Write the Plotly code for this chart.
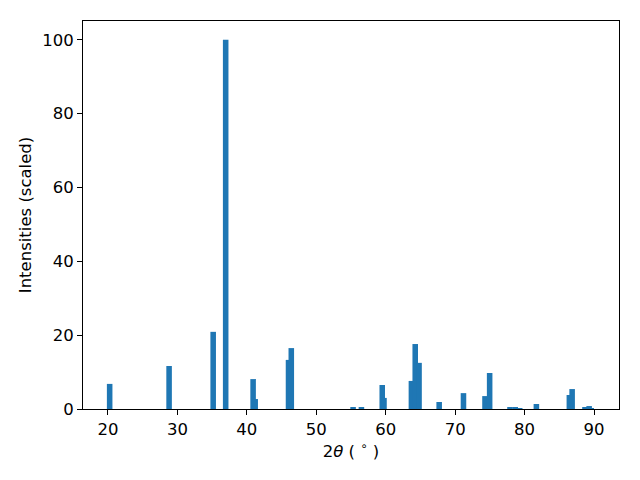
import plotly.graph_objects as go

two_theta = [20.24, 28.8, 35.15, 36.95, 40.9, 41.2, 46.0, 46.4, 55.3, 56.5, 59.5, 59.75,
             63.7, 64.25, 64.8, 67.7, 71.2, 74.3, 74.97, 77.9, 78.65, 79.3, 81.7,
             86.45, 86.85, 88.7, 89.3, 89.6]
intensity = [6.8, 11.65, 20.9, 100.0, 8.1, 2.7, 13.3, 16.5, 0.5, 0.3, 6.5, 3.0,
             7.6, 17.6, 12.5, 1.9, 4.3, 3.5, 9.75, 0.5, 0.5, 0.25, 1.35,
             3.8, 5.4, 0.3, 0.8, 0.2]
bar_width = 0.8

fig = go.Figure(go.Bar(x=two_theta, y=intensity, width=[bar_width] * len(two_theta),
                       marker=dict(color="#1f77b4", line=dict(width=0))))

font = dict(family="DejaVu Sans", size=16.5, color="black")
axis_common = dict(showline=True, linecolor="black", linewidth=1, mirror=True,
                   ticks="outside", ticklen=5, tickwidth=1, tickcolor="black",
                   showgrid=False, zeroline=False,
                   tickfont=font, title_font=font)

fig.update_layout(
    width=640, height=480,
    margin=dict(l=83, r=21, t=21, b=71),
    plot_bgcolor="white", paper_bgcolor="white",
    barmode="overlay", showlegend=False,
    xaxis=dict(range=[16.4, 93.6], tickvals=[20, 30, 40, 50, 60, 70, 80, 90],
               title=dict(text="2<i>θ</i> ( <sup>∘</sup> )", standoff=7), **axis_common),
    yaxis=dict(range=[0, 105.1], tickvals=[0, 20, 40, 60, 80, 100],
               title=dict(text="Intensities (scaled)", standoff=6), **axis_common),
)

fig.write_html("out.html", config={"displayModeBar": False},
               post_script="document.body.style.margin='0';")
